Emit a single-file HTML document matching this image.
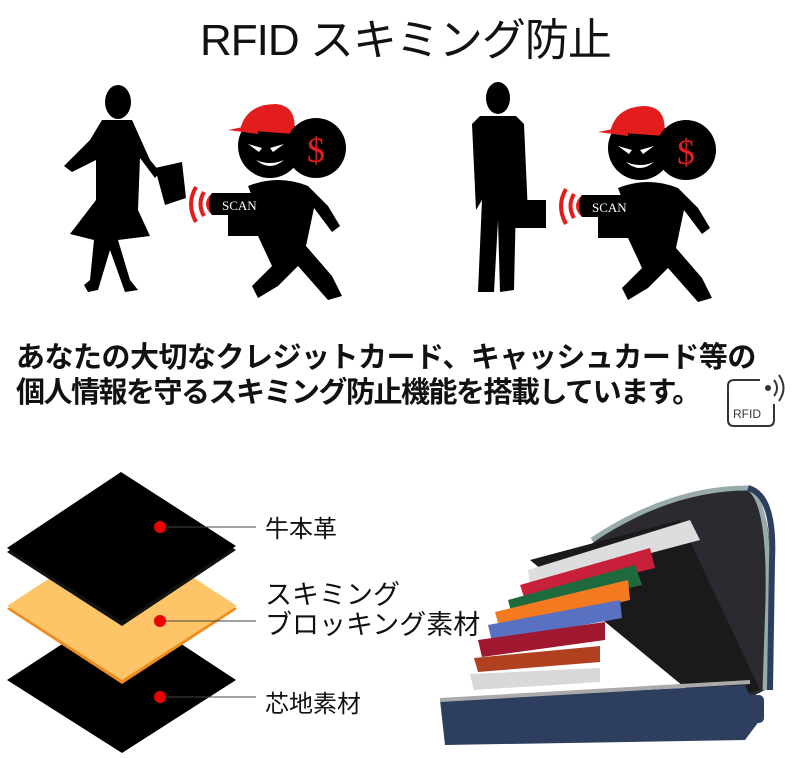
<!DOCTYPE html>
<html><head><meta charset="utf-8"><style>
html,body{margin:0;padding:0;background:#fff;}
body{width:800px;height:758px;position:relative;overflow:hidden;font-family:"Liberation Sans","Noto Sans CJK JP",sans-serif;}
.t{position:absolute;white-space:nowrap;color:#111;}
</style></head><body>
<div class="t" style="left:200px;top:4px;font-size:44px;letter-spacing:-1px;">RFID スキミング防止</div>
<div class="t" style="left:16px;top:334px;font-size:29px;font-weight:bold;letter-spacing:-0.5px;font-family:'Noto Sans CJK JP',sans-serif;">あなたの大切なクレジットカード、キャッシュカード等の</div>
<div class="t" style="left:16px;top:369px;font-size:29px;font-weight:bold;letter-spacing:-1.5px;font-family:'Noto Sans CJK JP',sans-serif;">個人情報を守るスキミング防止機能を搭載しています。</div>
<div class="t" style="left:265px;top:509px;font-size:24px;">牛本革</div>
<div class="t" style="left:265px;top:580px;font-size:27px;line-height:30px;">スキミング<br>ブロッキング素材</div>
<div class="t" style="left:265px;top:684px;font-size:24px;">芯地素材</div>
<svg width="800" height="758" style="position:absolute;left:0;top:0">
<defs>
<g id="thief">
 <ellipse cx="42" cy="60" rx="32" ry="32" fill="#000"/>
 <path d="M12 44 Q18 18 48 18 Q70 20 66 48 Z" fill="#e31d1d"/>
 <path d="M0 44 L30 38 L30 48 Z" fill="#e31d1d"/>
 <path d="M20 58 l14 4 l-3 4 z M56 58 l-14 4 l3 4z" fill="#fff"/>
 <path d="M28 74 Q42 86 56 74 Q42 80 28 74z" fill="#fff"/>
 <circle cx="88" cy="62" r="30" fill="#000"/>
 <text x="88" y="76" font-size="36" fill="#e31d1d" text-anchor="middle" font-family="Liberation Serif">$</text>
 <path d="M20 100 Q50 88 80 100 L100 120 L112 140 L104 146 L86 122 L78 160 L104 190 L114 210 L100 214 L70 180 L50 200 L30 212 L24 200 L44 180 L30 150 L0 150 L0 128 L30 126 Z" fill="#000"/>
</g>
</defs>
<g fill="#000">
 <ellipse cx="118" cy="102" rx="13" ry="17"/>
 <path d="M102 120 L132 120 L150 160 L160 172 L155 178 L140 158 L138 210 L150 236 L118 240 L130 280 L138 290 L125 292 L110 250 L98 290 L88 292 L84 285 L90 280 L94 240 L70 234 L96 200 L96 160 L72 172 L64 166 L90 140 Z"/>
 <path d="M155 168 L182 162 L186 198 L165 205 Z"/>
</g>
<use href="#thief" x="228" y="86"/>
<path d="M212 193 L262 193 Q270 200 262 215 L212 215 Q204 204 212 193Z" fill="#000"/>
<path d="M212 193 Q206 204 212 215 Q200 204 212 193Z" fill="#e31d1d"/>
<text x="222" y="210" font-size="13" fill="#fff" font-family="Liberation Serif">SCAN</text>
<path d="M196 187 Q186 204 196 222" stroke="#e31d1d" stroke-width="4" fill="none"/>
<path d="M204 192 Q197 204 204 216" stroke="#e31d1d" stroke-width="4" fill="none"/>
<g fill="#000">
 <ellipse cx="498" cy="98" rx="12" ry="16"/>
 <path d="M480 116 L516 116 L524 124 L528 214 L520 216 L516 200 L514 290 L500 292 L498 220 L494 292 L478 292 L482 200 L476 210 L472 124 Z"/>
 <rect x="512" y="200" width="34" height="28"/>
</g>
<use href="#thief" x="598" y="88"/>
<path d="M582 195 L632 195 Q640 202 632 217 L582 217 Q574 206 582 195Z" fill="#000"/>
<path d="M582 195 Q576 206 582 217 Q570 206 582 195Z" fill="#e31d1d"/>
<text x="592" y="212" font-size="13" fill="#fff" font-family="Liberation Serif">SCAN</text>
<path d="M566 189 Q556 206 566 224" stroke="#e31d1d" stroke-width="4" fill="none"/>
<path d="M574 194 Q567 206 574 218" stroke="#e31d1d" stroke-width="4" fill="none"/>
<path d="M760 380 L734 380 Q728 380 728 386 L728 420 Q728 426 734 426 L768 426 Q774 426 774 420 L774 404" fill="none" stroke="#333" stroke-width="2"/>
<circle cx="768" cy="388" r="3" fill="#333"/>
<path d="M774 380 Q780 388 774 396 M779 375 Q788 388 779 401" stroke="#333" stroke-width="2" fill="none"/>
<text x="733" y="418" font-size="12" fill="#333">RFID</text>
<polygon points="7,680 122,605 236,680 122,753" fill="#000"/>
<polygon points="7,609 122,533 237,609 122,684" fill="#f08c1e"/>
<polygon points="7,606 122,531 237,606 122,680" fill="#fdc567"/>
<polygon points="7,552 121,475 236,550 122,626" fill="#111"/>
<polygon points="7,548 121,472 236,546 122,621" fill="#000"/>
<g stroke="#444" stroke-width="1"><line x1="160" y1="527" x2="256" y2="527"/><line x1="160" y1="621" x2="256" y2="621"/><line x1="160" y1="697" x2="256" y2="697"/></g>
<g fill="#e00"><circle cx="160" cy="527" r="6"/><circle cx="160" cy="621" r="6"/><circle cx="160" cy="697" r="6"/></g>
<path d="M590 545 Q660 490 745 488 Q770 500 770 560 L765 690 L745 700 Z" fill="#2a2a30"/>
<path d="M592 540 Q670 488 748 488 Q770 500 768 600 L765 690" stroke="#9aa" stroke-width="5" fill="none"/>
<path d="M748 488 Q775 495 772 560 L770 690" stroke="#2d3e5c" stroke-width="6" fill="none"/>
<polygon points="530,560 680,520 760,690 700,700" fill="#1a1a1a"/>
<polygon points="528,570 690,520 700,540 530,585" fill="#ddd"/>
<polygon points="520,585 650,548 655,568 525,600" fill="#c8203a"/>
<polygon points="508,600 635,565 642,585 512,615" fill="#1f6a3c"/>
<polygon points="495,612 628,580 630,600 500,630" fill="#f47a20"/>
<polygon points="488,625 620,600 622,618 492,642" fill="#5a70c0"/>
<polygon points="478,640 605,622 605,640 482,657" fill="#a01830"/>
<polygon points="474,658 600,646 600,662 478,672" fill="#b04020"/>
<polygon points="470,674 600,668 600,682 474,690" fill="#d8d8d8"/>
<path d="M440 700 L745 685 L760 720 L745 740 L445 745 Z" fill="#2e3e5e"/>
<path d="M440 700 L750 682" stroke="#aaa" stroke-width="4"/>
<rect x="742" y="695" width="22" height="28" rx="5" fill="#2e3e5e"/>
</svg>
</body></html>
